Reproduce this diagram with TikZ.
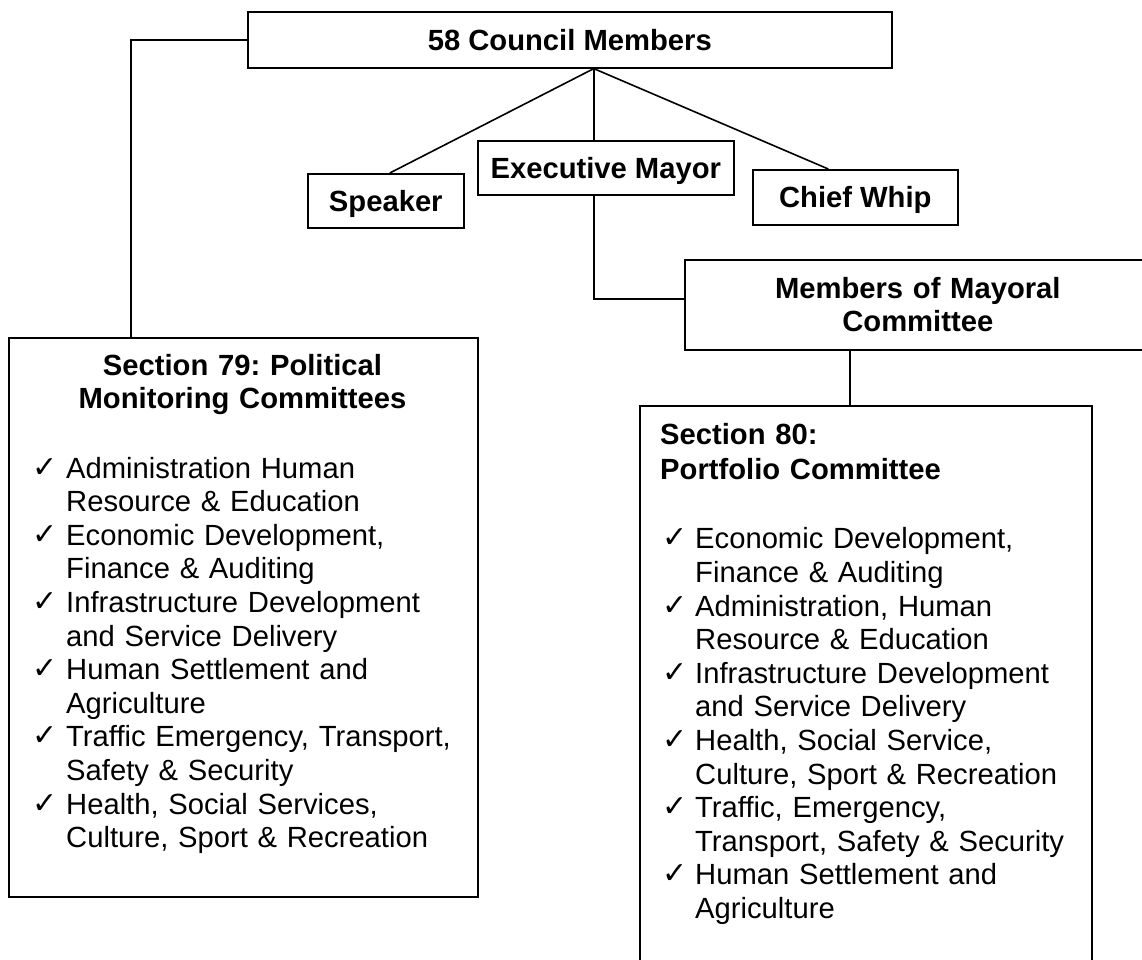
\documentclass[tikz,border=0pt]{standalone}
\usepackage{fontspec}
\setmainfont{Liberation Sans}
\newfontfamily\symfont{DejaVu Sans}
\frenchspacing

% one committee entry: tick, first line, indented second line
\newcommand\tick{\raisebox{1pt}{\symfont\fontsize{30}{30}\selectfont ✓}}
\newcommand\entry[3][34pt]{%
  \noindent\makebox[#1][l]{\tick}#2\par
  \noindent\hspace*{#1}#3\par}

\begin{document}
\begin{tikzpicture}[x=1pt,y=-1pt,
  box/.style={draw, line width=1.6pt, rectangle, inner sep=0pt, anchor=north west},
  headfont/.style={font=\fontsize{29.2}{33}\selectfont\bfseries},
  namebox/.style={box, headfont, text height=21pt, text depth=0pt},
  heading/.style={headfont, inner sep=0pt},
  itemlist/.style={font=\fontsize{29.2}{33.6}\selectfont, inner sep=0pt, anchor=base west},
  link/.style={line width=1.6pt}]

\useasboundingbox (0,0) rectangle (1142,959);
\fill[white] (0,0) rectangle (1142,959);
\clip (0,0) rectangle (1142,959);

% council and office bearers
\node[namebox, minimum width=644pt, minimum height=56pt] (council) at (247,11) {58 Council Members};
\node[namebox, minimum width=156pt, minimum height=54pt] (speaker) at (307,173) {Speaker};
\node[namebox, minimum width=256pt, minimum height=54pt] (exec) at (477,140) {Executive Mayor};
\node[namebox, minimum width=205pt, minimum height=55pt] (chief) at (752,169) {Chief Whip};
\node[box, headfont, align=center, text width=440pt, minimum width=466pt, minimum height=90pt] (mmc) at (684,259)
  {Members of Mayoral\\Committee};

% committee frames
\node[box, minimum width=469pt, minimum height=559pt] (s79) at (8,337) {};
\node[box, minimum width=452pt, minimum height=560pt] (s80) at (639,405) {};

% Section 79 contents
\node[heading, text width=460pt, align=center, anchor=base] (s79title) at (242.5,375.5)
  {Section 79: Political\\Monitoring Committees};
\node[itemlist, text width=440pt] (s79list) at (32,478) {%
  \entry{Administration Human}{Resource \& Education}
  \entry{Economic Development,}{Finance \& Auditing}
  \entry{Infrastructure Development}{and Service Delivery}
  \entry{Human Settlement and}{Agriculture}
  \entry{Traffic Emergency, Transport,}{Safety \& Security}
  \entry{Health, Social Services,}{Culture, Sport \& Recreation}};

% Section 80 contents
\node[heading, text width=420pt, align=left, anchor=base west, font=\fontsize{29.2}{35}\selectfont\bfseries] (s80title) at (660,444)
  {Section 80:\\Portfolio Committee};
\node[itemlist, text width=430pt] (s80list) at (662,548.8) {%
  \entry[33pt]{Economic Development,}{Finance \& Auditing}
  \entry[33pt]{Administration, Human}{Resource \& Education}
  \entry[33pt]{Infrastructure Development}{and Service Delivery}
  \entry[33pt]{Health, Social Service,}{Culture, Sport \& Recreation}
  \entry[33pt]{Traffic, Emergency,}{Transport, Safety \& Security}
  \entry[33pt]{Human Settlement and}{Agriculture}};

% connectors
\draw[link] (council.west) -| ([xshift=123pt]s79.north west);
\coordinate (hub) at ([xshift=24pt]council.south);
\draw[link] (hub) -- ([xshift=4pt]speaker.north);
\draw[link] (hub) -- (hub |- exec.north);
\draw[link] (hub) -- ([xshift=-27pt]chief.north);
\draw[link] (hub |- exec.south) |- ([yshift=6pt]mmc.west);
\coordinate (mmcdrop) at ([xshift=-68pt]mmc.south);
\draw[link] (mmcdrop) -- (mmcdrop |- s80.north);
\end{tikzpicture}
\end{document}
